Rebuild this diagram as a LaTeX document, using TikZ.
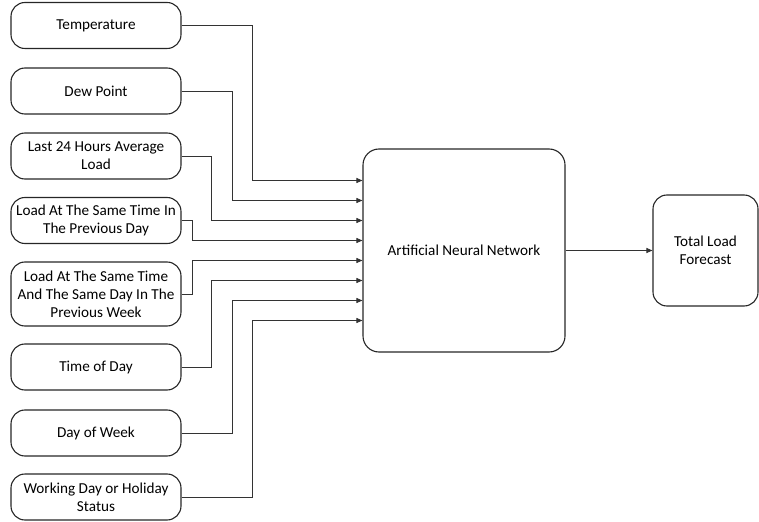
\documentclass[tikz,border=0pt]{standalone}
\usepackage{fontspec}
\setmainfont{Carlito}
\usetikzlibrary{arrows.meta,calc}
\begin{document}
\begin{tikzpicture}[x=1bp,y=-1bp,
  inbox/.style={draw=black!85, line width=1.1bp, rounded corners=14bp,
    minimum width=170bp, minimum height=46bp, align=center, inner sep=1bp,
    font=\fontsize{15.2bp}{17.8bp}\selectfont},
  link/.style={draw=black!80, line width=0.9bp, -{Triangle[length=6bp,width=5bp]}},
]
\useasboundingbox (0,0) rectangle (759,522);

% input boxes
\node[inbox] (temp) at (96,25.5) {Temperature};
\node[inbox] (dew)  at (96,91) {Dew Point};
\node[inbox] (avg)  at (96,156) {Last 24 Hours Average\\Load};
\node[inbox] (prevday) at (96,220.5) {Load At The Same Time In\\The Previous Day};
\node[inbox, minimum height=64bp] (prevweek) at (96,294) {Load At The Same Time\\And The Same Day In The\\Previous Week};
\node[inbox] (tod) at (96,367) {Time of Day};
\node[inbox] (dow) at (96,433) {Day of Week};
\node[inbox] (work) at (96,497) {Working Day or Holiday\\Status};

% network and output
\node[inbox, minimum width=202bp, minimum height=203bp, rounded corners=16bp] (ann) at (464,250.5) {Artificial Neural Network};
\node[inbox, minimum width=105bp, minimum height=111bp, rounded corners=14bp] (out) at (705.5,250.5) {Total Load\\Forecast};

% entry points on the network box
\foreach \i/\d in {1/-70,2/-50,3/-30,4/-10,5/10,6/30,7/50,8/70}
  \coordinate (in\i) at ($(ann.west)+(0,\d)$);

\draw[link] (temp.east) -- ++(71,0) |- (in1);
\draw[link] (dew.east) -- ++(51,0) |- (in2);
\draw[link] (avg.east) -- ++(30,0) |- (in3);
\draw[link] (prevday.east) -- ++(11,0) |- (in4);
\draw[link] (prevweek.east) -- ++(11,0) |- (in5);
\draw[link] (tod.east) -- ++(30,0) |- (in6);
\draw[link] (dow.east) -- ++(51,0) |- (in7);
\draw[link] (work.east) -- ++(71,0) |- (in8);
\draw[link] (ann.east) -- (out.west);
\end{tikzpicture}
\end{document}
